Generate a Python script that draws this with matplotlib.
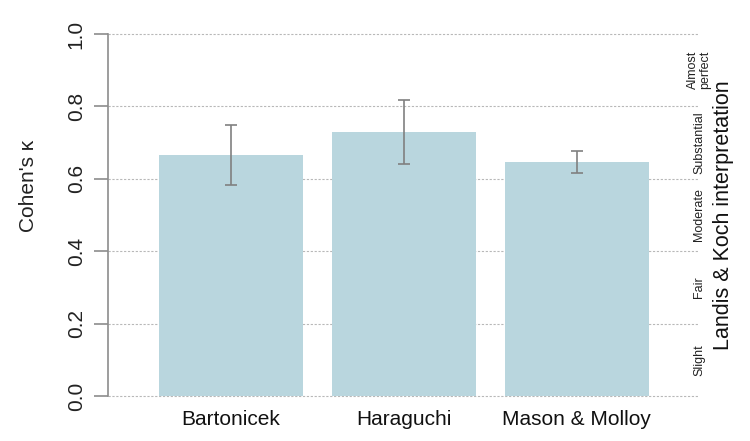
import numpy as np
import matplotlib.pyplot as plt

plt.rcParams['font.family'] = ['Liberation Sans', 'DejaVu Sans']

# data
studies = ['Bartonicek', 'Haraguchi', 'Mason & Molloy']
kappa = [0.666, 0.730, 0.646]
ci_low = [0.583, 0.642, 0.617]
ci_high = [0.748, 0.818, 0.678]

# Landis & Koch bands
band_edges = [0.0, 0.2, 0.4, 0.6, 0.8, 1.0]
band_names = ['Slight', 'Fair', 'Moderate', 'Substantial', 'Almost\nperfect']

bar_col = '#b9d6de'
axis_col = '#8c8c8c'

fig = plt.figure(figsize=(7.5, 4.41), dpi=100)
ax = fig.add_axes([108 / 750, 1 - 396 / 441, 590 / 750, 362 / 441])

x = np.arange(len(studies))
ax.bar(x, kappa, width=0.83, color=bar_col, zorder=2)

kappa = np.array(kappa)
err = [kappa - np.array(ci_low), np.array(ci_high) - kappa]
ax.errorbar(x, kappa, yerr=err, fmt='none', ecolor='#808080', elinewidth=1.2,
            capsize=4.3, capthick=1.2, zorder=3)

for e in band_edges:
    ax.axhline(e, color='#b8b8b8', lw=0.8, ls=(0, (2, 1.5)), zorder=1, clip_on=False)

ax.set_xlim(-0.711, 2.70)
ax.set_ylim(0, 1)

for s in ['top', 'right', 'bottom']:
    ax.spines[s].set_visible(False)
ax.spines['left'].set_color(axis_col)
ax.spines['left'].set_linewidth(1.2)

ax.set_yticks(band_edges)
ax.set_yticklabels(['%.1f' % v for v in band_edges], rotation=90, va='center',
                   fontsize=15, color='#222222')
ax.tick_params(axis='y', length=10, width=1.2, color=axis_col, pad=6)
ax.set_ylabel("Cohen's κ", fontsize=15, color='#222222')
ax.yaxis.set_label_coords(-0.118, 0.58)

ax.set_xticks(x)
ax.set_xticklabels(studies, fontsize=15, color='#111111')
ax.tick_params(axis='x', length=0, pad=10)

# right side interpretation labels
mids = [(band_edges[i] + band_edges[i + 1]) / 2 for i in range(len(band_names))]
for m, name in zip(mids, band_names):
    ax.text(1.0 + 1 / 590, m, name, transform=ax.get_yaxis_transform(),
            rotation=90, ha='center', va='center', fontsize=9,
            color='#222222', linespacing=1.0)
ax.text(1.0 + 26 / 590, 0.5, 'Landis & Koch interpretation',
        transform=ax.transAxes, rotation=90, ha='center', va='center',
        fontsize=15.5, color='#111111')

fig.savefig('out.png', dpi=100)
